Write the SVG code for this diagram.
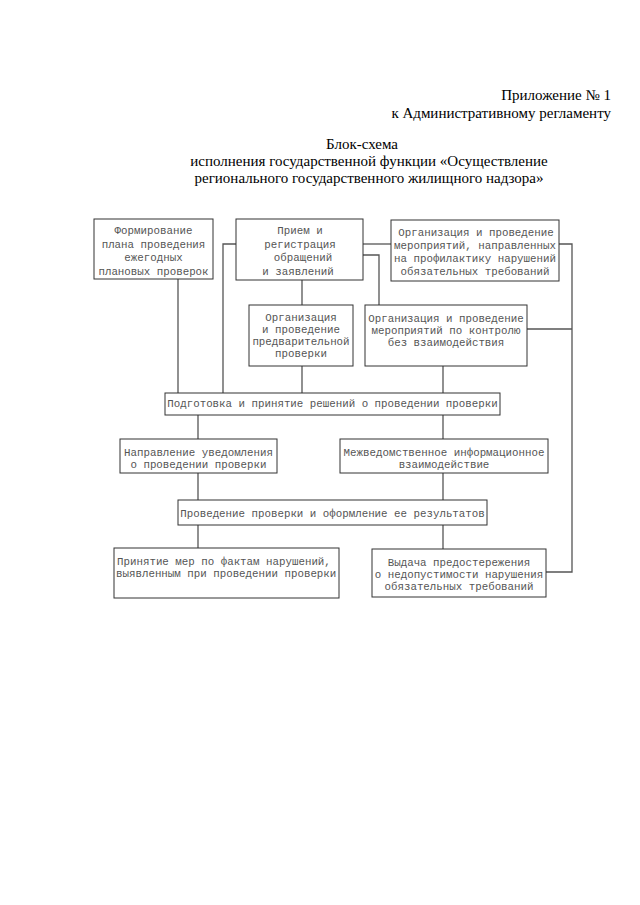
<svg xmlns="http://www.w3.org/2000/svg" width="640" height="905" viewBox="0 0 640 905">
<style>
.hdr{font-family:"Liberation Serif","Times New Roman",serif;font-size:15px;fill:#000}
.box{fill:#fff;stroke:#333;stroke-width:1}
.t{font-family:"Liberation Mono","Courier New",monospace;font-size:10.8px;fill:#555;text-anchor:middle}
.ts{font-family:"Liberation Mono","Courier New",monospace;font-size:10.8px;fill:#555}
.c{fill:none;stroke:#555;stroke-width:1.3}
</style>
<rect width="640" height="905" fill="#fff"/>
<g id="header">
<text class="hdr" x="611" y="100" text-anchor="end">Приложение № 1</text>
<text class="hdr" x="611" y="118" text-anchor="end">к Административному регламенту</text>
<text class="hdr" x="362" y="149" text-anchor="middle">Блок-схема</text>
<text class="hdr" x="369" y="166" text-anchor="middle">исполнения государственной функции «Осуществление</text>
<text class="hdr" x="369" y="183" text-anchor="middle">регионального государственного жилищного надзора»</text>
</g>
<g id="connectors">
<path class="c" d="M178 279V393"/>
<path class="c" d="M236 244H223V393"/>
<path class="c" d="M302 280V305"/>
<path class="c" d="M363 244H391"/>
<path class="c" d="M363 255H379V305"/>
<path class="c" d="M559 244H572V572H546"/>
<path class="c" d="M527 329H572"/>
<path class="c" d="M302 366V393"/>
<path class="c" d="M443 366V393"/>
<path class="c" d="M198 415V439"/>
<path class="c" d="M443 415V439"/>
<path class="c" d="M198 473V500"/>
<path class="c" d="M443 473V500"/>
<path class="c" d="M198 525V548"/>
<path class="c" d="M443 525V549"/>
</g>
<g id="n1">
<rect class="box" x="94" y="219" width="119" height="60"/>
<text class="t" x="153.5" y="234">Формирование</text>
<text class="t" x="153.5" y="248">плана проведения</text>
<text class="t" x="153.5" y="261">ежегодных</text>
<text class="t" x="153.5" y="275">плановых проверок</text>
</g>
<g id="n2">
<rect class="box" x="236" y="219" width="127" height="61"/>
<text class="t" x="300" y="234">Прием и</text>
<text class="t" x="300" y="248">регистрация</text>
<text class="t" x="303" y="261">обращений</text>
<text class="t" x="298" y="275">и заявлений</text>
</g>
<g id="n3">
<rect class="box" x="391" y="220" width="168" height="61"/>
<text class="t" x="476" y="236">Организация и проведение</text>
<text class="t" x="475" y="249">мероприятий, направленных</text>
<text class="t" x="475" y="262">на профилактику нарушений</text>
<text class="t" x="475" y="275">обязательных требований</text>
</g>
<g id="n4">
<rect class="box" x="249" y="305" width="104" height="61"/>
<text class="t" x="301" y="321">Организация</text>
<text class="t" x="301" y="333">и проведение</text>
<text class="t" x="301" y="345">предварительной</text>
<text class="t" x="301" y="357">проверки</text>
</g>
<g id="n5">
<rect class="box" x="365" y="305" width="162" height="61"/>
<text class="t" x="446" y="322">Организация и проведение</text>
<text class="t" x="446" y="334">мероприятий по контролю</text>
<text class="t" x="446" y="346">без взаимодействия</text>
</g>
<g id="n6">
<rect class="box" x="165" y="393" width="335" height="22"/>
<text class="t" x="332.5" y="407">Подготовка и принятие решений о проведении проверки</text>
</g>
<g id="n7">
<rect class="box" x="120" y="439" width="157" height="34"/>
<text class="t" x="198.5" y="456">Направление уведомления</text>
<text class="t" x="198.5" y="468">о проведении проверки</text>
</g>
<g id="n8">
<rect class="box" x="340" y="439" width="208" height="34"/>
<text class="t" x="444" y="456">Межведомственное информационное</text>
<text class="t" x="444" y="468">взаимодействие</text>
</g>
<g id="n9">
<rect class="box" x="178" y="500" width="309" height="25"/>
<text class="t" x="332.5" y="517">Проведение проверки и оформление ее результатов</text>
</g>
<g id="n10">
<rect class="box" x="114" y="548" width="225" height="50"/>
<text class="ts" x="117" y="565">Принятие мер по фактам нарушений,</text>
<text class="ts" x="116" y="577">выявленным при проведении проверки</text>
</g>
<g id="n11">
<rect class="box" x="372" y="549" width="174" height="48"/>
<text class="t" x="459" y="566">Выдача предостережения</text>
<text class="t" x="459" y="578">о недопустимости нарушения</text>
<text class="t" x="459" y="590">обязательных требований</text>
</g>
</svg>
